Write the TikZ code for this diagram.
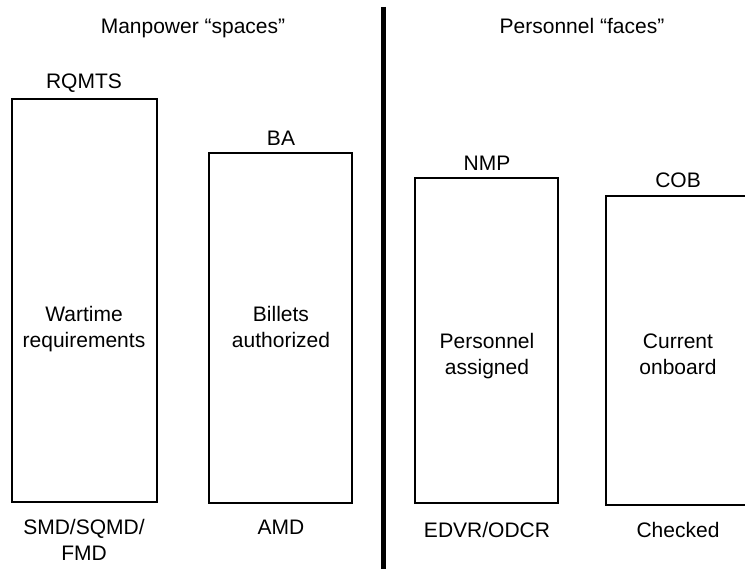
\documentclass[tikz,border=0pt]{standalone}
\usepackage{fontspec}
\setmainfont{Liberation Sans}
\begin{document}
\begin{tikzpicture}[x=1pt,y=-1pt,
  box/.style={draw=black, line width=1.5pt, rectangle, inner sep=0pt},
  lbl/.style={anchor=base, inner sep=0pt, align=center, font=\fontsize{21}{26}\selectfont},
  divider/.style={line width=5pt, draw=black}]
\useasboundingbox (0,0) rectangle (745,569);
\begin{scope}
\clip (0,0) rectangle (745,569);
% titles
\node[lbl] (t1) at (193,34) {Manpower “spaces”};
\node[lbl] (t2) at (582,34) {Personnel “faces”};
% divider
\coordinate (dtop) at (383.5,7);
\coordinate (dbot) at (383.5,569);
\draw[divider] (dtop) -- (dbot);
% boxes
\node[box, minimum width=145pt, minimum height=403pt] (rq) at (84.5,300.5) {};
\node[box, minimum width=143pt, minimum height=350pt] (ba) at (280.5,328) {};
\node[box, minimum width=143pt, minimum height=325pt] (nmp) at (486.5,340.5) {};
\node[box, minimum width=144pt, minimum height=309pt] (cob) at (678,350.5) {};
% top labels
\node[lbl] (rqT) at (84,89) {RQMTS};
\node[lbl] (baT) at (281,146) {BA};
\node[lbl] (nmpT) at (487,171) {NMP};
\node[lbl] (cobT) at (678,188) {COB};
% inner labels (anchor base = last line baseline)
\node[lbl] (rqI) at (84,348) {Wartime\\requirements};
\node[lbl] (baI) at (281,348) {Billets\\authorized};
\node[lbl] (nmpI) at (487,375) {Personnel\\assigned};
\node[lbl] (cobI) at (678,375) {Current\\onboard};
% bottom labels
\node[lbl] (rqB) at (84,560) {SMD/SQMD/\\FMD};
\node[lbl] (baB) at (281,534) {AMD};
\node[lbl] (nmpB) at (487,537) {EDVR/ODCR};
\node[lbl] (cobB) at (678,537) {Checked};
\end{scope}
\end{tikzpicture}
\end{document}
